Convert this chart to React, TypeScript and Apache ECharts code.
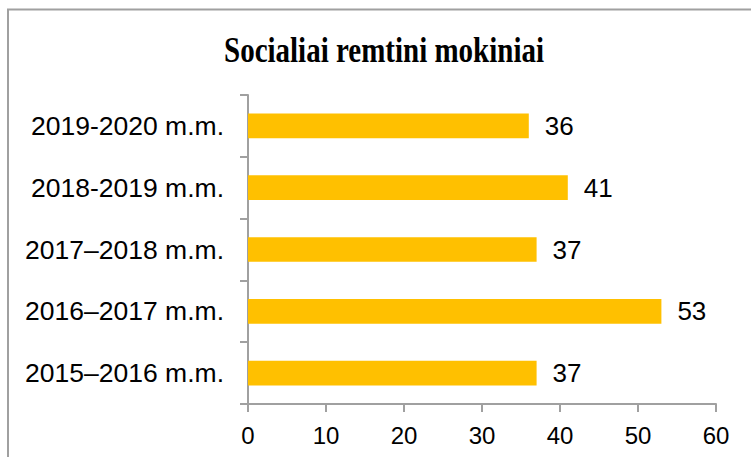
import React, { useEffect, useRef } from "react";
import * as echarts from "echarts";

const titleText = "Socialiai remtini mokiniai";
const categories = [
  "2015–2016 m.m.",
  "2016–2017 m.m.",
  "2017–2018 m.m.",
  "2018-2019 m.m.",
  "2019-2020 m.m.",
];
const values = [37, 53, 37, 41, 36];
const xMin = 0;
const xMax = 60;
const xStep = 10;

export default function App() {
  const ref = useRef<HTMLDivElement>(null);
  useEffect(() => {
    if (!ref.current) return;
    const chart = echarts.init(ref.current, undefined, { renderer: "svg" });
    const axisColor = "#a0a0a0";
    const sans = "'Liberation Sans', Arial, sans-serif";
    chart.setOption({
      animation: false,
      backgroundColor: "#ffffff",
      graphic: [
        {
          type: "rect",
          shape: { x: 8, y: 9.5, width: 800, height: 500 },
          style: { fill: "none", stroke: "#a0a0a0", lineWidth: 2 },
          silent: true,
        },
        {
          type: "text",
          x: 384,
          y: 50,
          scaleY: 1.25,
          style: {
            text: titleText,
            font: "bold 29px 'Liberation Serif', 'Times New Roman', serif",
            fill: "#000000",
            align: "center",
            verticalAlign: "middle",
          },
        },
      ],
      grid: { left: 248, right: 35, top: 95, bottom: 53, containLabel: false },
      xAxis: {
        type: "value",
        min: xMin,
        max: xMax,
        interval: xStep,
        splitLine: { show: false },
        axisLine: { show: true, lineStyle: { color: axisColor, width: 2 } },
        axisTick: { show: true, length: 8, lineStyle: { color: axisColor, width: 2 } },
        axisLabel: { fontSize: 24, color: "#000", fontFamily: sans, margin: 19 },
      },
      yAxis: {
        type: "category",
        data: categories,
        axisLine: { show: true, lineStyle: { color: axisColor, width: 2 } },
        axisTick: { show: true, length: 8, lineStyle: { color: axisColor, width: 2 } },
        axisLabel: { fontSize: 26.5, color: "#000", fontFamily: sans, margin: 24 },
      },
      series: [
        {
          type: "bar",
          data: values,
          barWidth: "40%",
          itemStyle: { color: "#FFC000" },
          label: {
            show: true,
            position: "right",
            distance: 16,
            fontSize: 26,
            color: "#000",
            fontFamily: sans,
          },
        },
      ],
    });
    return () => chart.dispose();
  }, []);
  return (
    <div
      ref={ref}
      style={{ position: "fixed", left: 0, top: 0, width: 751, height: 457 }}
    />
  );
}
